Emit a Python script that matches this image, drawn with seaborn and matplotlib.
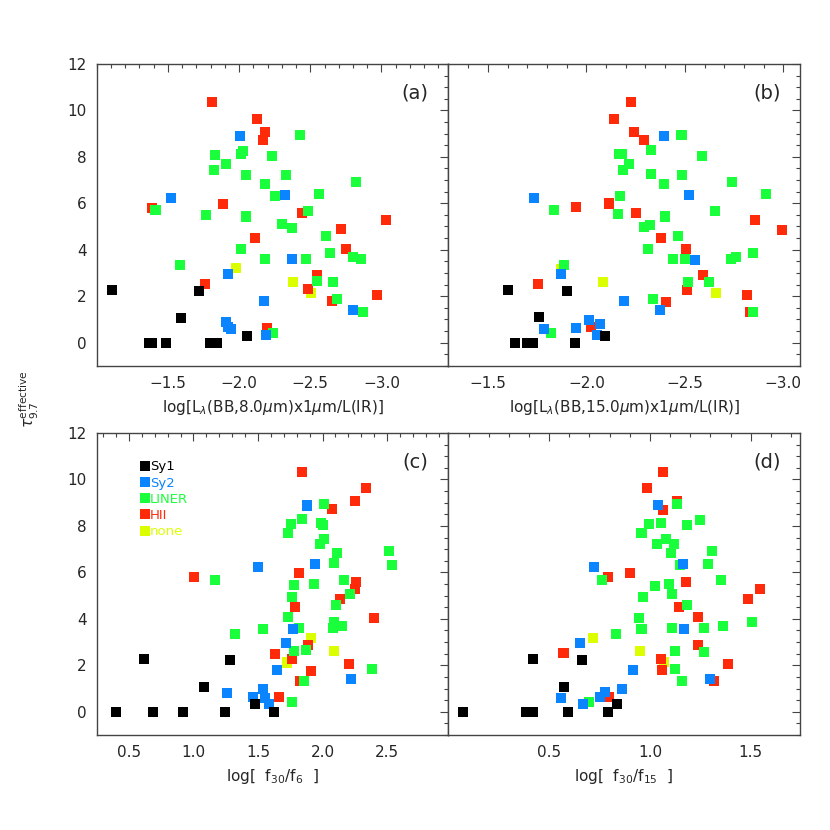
"""Silicate optical depth vs. continuum/colour indicators, four panels."""

import matplotlib
matplotlib.use("Agg")
import matplotlib.pyplot as plt
import matplotlib.ticker as ticker
from matplotlib.lines import Line2D
import pandas as pd
import seaborn as sns

TYPES = ["Sy1", "Sy2", "LINER", "HII", "none"]
COLORS = {"Sy1": "#000000", "Sy2": "#0a84ff", "LINER": "#1aff3c",
          "HII": "#ff2a0a", "none": "#dcff00"}
DRAW_ORDER = ["none", "HII", "LINER", "Sy2", "Sy1"]

# panel (a): log[L(BB,8um) x 1um / L(IR)] vs tau
A_SY1 = [(-1.107, 2.25), (-1.721, 2.22), (-1.592, 1.07), (-2.058, 0.30),
         (-1.365, 0), (-1.39, 0), (-1.488, 0), (-1.794, 0), (-1.848, 0)]
A_SY2 = [(-2.008, 8.88), (-1.524, 6.23), (-1.919, 2.97), (-2.178, 1.79),
         (-1.908, 0.90), (-1.925, 0.69), (-1.944, 0.59), (-2.189, 0.33),
         (-2.324, 6.35), (-2.371, 3.58), (-2.801, 1.40)]
A_LINER = [(-1.829, 8.09), (-2.011, 8.12), (-2.025, 8.25), (-2.232, 8.05),
           (-1.827, 7.44), (-1.905, 7.71), (-2.051, 7.23), (-2.185, 6.82),
           (-2.253, 6.32), (-1.413, 5.69), (-1.771, 5.50), (-2.051, 5.43),
           (-2.015, 4.05), (-2.182, 3.58), (-1.587, 3.34), (-2.425, 8.93),
           (-2.328, 7.21), (-2.559, 6.38), (-2.822, 6.92), (-2.481, 5.66),
           (-2.302, 5.09), (-2.371, 4.94), (-2.608, 4.61), (-2.639, 3.85),
           (-2.469, 3.62), (-2.801, 3.70), (-2.853, 3.61), (-2.547, 2.65),
           (-2.657, 2.61), (-2.688, 1.86), (-2.871, 1.33), (-2.236, 0.40)]
A_HII = [(-1.813, 10.34), (-2.128, 9.63), (-2.185, 9.07), (-2.166, 8.72),
         (-1.389, 5.80), (-1.888, 5.97), (-2.114, 4.50), (-1.759, 2.51),
         (-2.199, 0.64), (-2.441, 5.59), (-3.034, 5.27), (-2.716, 4.89),
         (-2.754, 4.05), (-2.547, 2.91), (-2.483, 2.29), (-2.968, 2.05),
         (-2.653, 1.79)]
A_NONE = [(-1.975, 3.21), (-2.376, 2.61), (-2.506, 2.13)]

# panel (b): log[L(BB,15um) x 1um / L(IR)] vs tau
B_SY1 = [(-1.602, 2.25), (-1.900, 2.22), (-1.758, 1.09), (-2.093, 0.29),
         (-1.639, 0), (-1.698, 0), (-1.727, 0), (-1.942, 0)]
B_SY2 = [(-1.736, 6.23), (-1.871, 2.97), (-2.192, 1.81), (-1.783, 0.59),
         (-1.949, 0.64), (-2.014, 0.97), (-2.071, 0.82), (-2.053, 0.32),
         (-2.393, 8.90), (-2.520, 6.36), (-2.551, 3.57), (-2.373, 1.42)]
B_LINER = [(-2.166, 8.11), (-2.183, 8.14), (-2.186, 7.44), (-2.217, 7.71),
           (-1.834, 5.70), (-2.171, 6.33), (-2.163, 5.52), (-1.885, 3.34),
           (-1.819, 0.40), (-2.483, 8.93), (-2.327, 8.28), (-2.585, 8.05),
           (-2.329, 7.25), (-2.485, 7.23), (-2.393, 6.82), (-2.741, 6.92),
           (-2.912, 6.39), (-2.651, 5.66), (-2.397, 5.43), (-2.292, 4.96),
           (-2.322, 5.07), (-2.463, 4.61), (-2.315, 4.05), (-2.442, 3.62),
           (-2.500, 3.60), (-2.734, 3.60), (-2.759, 3.68), (-2.847, 3.85),
           (-2.622, 2.59), (-2.514, 2.62), (-2.339, 1.86), (-2.847, 1.33)]
B_HII = [(-2.141, 9.63), (-1.949, 5.82), (-2.117, 5.99), (-1.754, 2.51),
         (-2.022, 0.66), (-2.225, 10.34), (-2.242, 9.07), (-2.293, 8.74),
         (-2.254, 5.60), (-2.856, 5.29), (-2.992, 4.87), (-2.381, 4.50),
         (-2.505, 4.05), (-2.590, 2.91), (-2.510, 2.28), (-2.813, 2.05),
         (-2.405, 1.76), (-2.830, 1.33)]
B_NONE = [(-1.873, 3.19), (-2.085, 2.61), (-2.656, 2.12)]

# panel (c): log[f30/f6] vs tau
C_SY1 = [(0.399, 0), (0.684, 0), (0.917, 0), (1.246, 0), (1.627, 0),
         (0.619, 2.25), (1.280, 2.22), (1.078, 1.07), (1.479, 0.32)]
C_SY2 = [(1.259, 0.82), (1.459, 0.63), (1.536, 0.97), (1.552, 0.60),
         (1.583, 0.32), (1.497, 6.23), (1.883, 8.88), (1.945, 6.35),
         (1.772, 3.57), (1.715, 2.97), (1.650, 1.81), (2.220, 1.40)]
C_LINER = [(1.166, 5.69), (1.324, 3.34), (1.536, 3.57), (2.013, 8.93),
           (1.842, 8.28), (1.754, 8.09), (1.733, 7.71), (1.990, 8.14),
           (2.000, 8.05), (2.013, 7.42), (1.979, 7.22), (2.111, 6.83),
           (2.513, 6.92), (2.536, 6.33), (2.091, 6.39), (1.780, 5.44),
           (1.933, 5.50), (2.163, 5.66), (2.215, 5.09), (1.764, 4.93),
           (2.104, 4.61), (1.736, 4.07), (1.821, 3.62), (2.086, 3.87),
           (2.078, 3.61), (2.153, 3.68), (1.780, 2.61), (1.868, 2.64),
           (2.381, 1.86), (1.855, 1.33), (1.764, 0.43)]
C_HII = [(1.003, 5.82), (1.842, 10.34), (2.340, 9.63), (2.249, 9.07),
         (2.075, 8.71), (1.821, 5.97), (2.261, 5.59), (2.251, 5.30),
         (2.132, 4.87), (1.788, 4.50), (2.399, 4.05), (1.889, 2.89),
         (1.632, 2.49), (1.762, 2.29), (2.202, 2.05), (1.909, 1.76),
         (1.829, 1.33), (1.660, 0.63)]
C_NONE = [(1.912, 3.19), (1.723, 2.12), (2.086, 2.61)]

# panel (d): log[f30/f15] vs tau
D_SY1 = [(0.072, 0), (0.385, 0), (0.421, 0), (0.594, 0), (0.792, 0),
         (0.418, 2.25), (0.661, 2.22), (0.572, 1.07), (0.838, 0.32)]
D_SY2 = [(0.559, 0.59), (0.666, 0.32), (0.752, 0.63), (0.777, 0.83),
         (0.859, 0.99), (0.655, 2.98), (0.721, 6.22), (1.039, 8.90),
         (1.162, 6.35), (1.169, 3.58), (0.915, 1.81), (1.297, 1.40)]
D_LINER = [(0.699, 0.42), (0.831, 3.35), (0.762, 5.69), (1.136, 8.93),
           (0.997, 8.09), (1.057, 8.14), (1.186, 8.02), (1.248, 8.27),
           (0.958, 7.71), (1.035, 7.24), (1.078, 7.45), (1.119, 7.21),
           (1.103, 6.82), (1.310, 6.92), (1.287, 6.38), (1.150, 6.33),
           (1.024, 5.43), (1.095, 5.50), (1.352, 5.66), (1.108, 5.07),
           (0.966, 4.93), (1.184, 4.61), (0.945, 4.05), (1.508, 3.85),
           (0.958, 3.58), (1.109, 3.61), (1.270, 3.60), (1.361, 3.68),
           (1.266, 2.59), (1.123, 2.61), (1.126, 1.86), (1.157, 1.32)]
D_HII = [(0.793, 5.82), (0.571, 2.51), (0.798, 0.63), (1.065, 10.34),
         (0.986, 9.63), (1.133, 9.07), (1.063, 8.70), (0.902, 5.97),
         (1.180, 5.59), (1.548, 5.27), (1.488, 4.87), (1.142, 4.50),
         (1.240, 4.07), (1.240, 2.89), (1.055, 2.29), (1.388, 2.05),
         (1.062, 1.78), (1.319, 1.32)]
D_NONE = [(0.716, 3.19), (0.953, 2.61), (1.070, 2.13)]

XLABEL_A = r"log[L$_\lambda$(BB,8.0$\mu$m)x1$\mu$m/L(IR)]"
XLABEL_B = r"log[L$_\lambda$(BB,15.0$\mu$m)x1$\mu$m/L(IR)]"
XLABEL_C = r"log[  f$_{30}$/f$_6$  ]"
XLABEL_D = r"log[  f$_{30}$/f$_{15}$  ]"


def panel_frame(groups):
    rows = [(x, y, t) for t in DRAW_ORDER for x, y in groups[t]]
    return pd.DataFrame(rows, columns=["x", "tau", "type"])


PANELS = [
    ("(a)", {"Sy1": A_SY1, "Sy2": A_SY2, "LINER": A_LINER, "HII": A_HII, "none": A_NONE},
     (-1.0, -3.47), [-1.5, -2.0, -2.5, -3.0], XLABEL_A),
    ("(b)", {"Sy1": B_SY1, "Sy2": B_SY2, "LINER": B_LINER, "HII": B_HII, "none": B_NONE},
     (-1.3, -3.085), [-1.5, -2.0, -2.5, -3.0], XLABEL_B),
    ("(c)", {"Sy1": C_SY1, "Sy2": C_SY2, "LINER": C_LINER, "HII": C_HII, "none": C_NONE},
     (0.25, 2.975), [0.5, 1.0, 1.5, 2.0, 2.5], XLABEL_C),
    ("(d)", {"Sy1": D_SY1, "Sy2": D_SY2, "LINER": D_LINER, "HII": D_HII, "none": D_NONE},
     (0.0, 1.745), [0.5, 1.0, 1.5], XLABEL_D),
]

sns.set_style("white")
plt.rcParams["font.family"] = ["DejaVu Sans"]

fig, axes = plt.subplots(2, 2, figsize=(8.3, 8.3), dpi=100)
fig.subplots_adjust(left=0.1165, right=0.964, top=0.923, bottom=0.1145,
                    wspace=0, hspace=0.2225)

for ax, (tag, groups, xlim, xticks, xlabel) in zip(axes.flat, PANELS):
    df = panel_frame(groups)
    sns.scatterplot(data=df, x="x", y="tau", hue="type", palette=COLORS,
                    marker="s", s=52, linewidth=0, legend=False, ax=ax)
    ax.set_xlim(*xlim)
    ax.set_ylim(-1, 12)
    ax.set_xticks(xticks)
    ax.set_xticklabels([f"{t:.1f}".replace("-", "\u2212") for t in xticks])
    ax.xaxis.set_minor_locator(ticker.MultipleLocator(0.1))
    ax.yaxis.set_major_locator(ticker.MultipleLocator(2))
    ax.yaxis.set_minor_locator(ticker.MultipleLocator(0.5))
    ax.tick_params(which="both", direction="in", top=True, right=True,
                   labelsize=11, color="#444444", width=0.8)
    ax.tick_params(which="major", length=6, pad=7)
    ax.tick_params(which="minor", length=3)
    for sp in ax.spines.values():
        sp.set_color("#444444")
        sp.set_linewidth(1.0)
    ax.set_xlabel(xlabel, fontsize=11, labelpad=5)
    ax.set_ylabel("")
    ax.text(0.905, 0.905, tag, transform=ax.transAxes, fontsize=14,
            ha="center", va="center")

for ax in (axes[0, 1], axes[1, 1]):
    ax.tick_params(labelleft=False)

handles = [Line2D([], [], marker="s", linestyle="", markersize=7.2,
                  markerfacecolor=COLORS[t], markeredgewidth=0) for t in TYPES]
axes[1, 0].legend(handles, TYPES, loc="upper left", bbox_to_anchor=(0.125, 0.91),
                  frameon=False, fontsize=9.5, handlelength=0.6,
                  handletextpad=0.1, labelspacing=0.25, borderpad=0,
                  borderaxespad=0, labelcolor=[COLORS[t] for t in TYPES])

fig.text(0.035, 0.519, r"$\tau_{9.7}^{\rm effective}$", rotation=90,
         ha="center", va="center", fontsize=11)

fig.savefig("out.png", dpi=100)
